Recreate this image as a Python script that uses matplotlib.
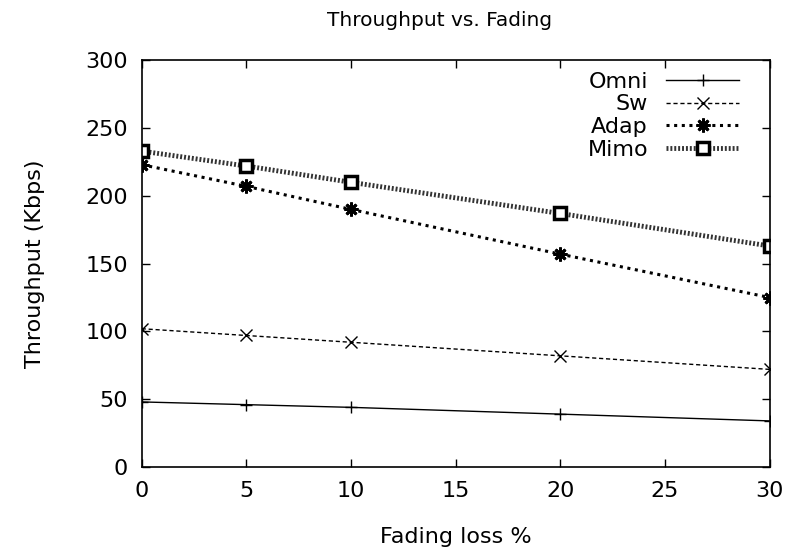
import matplotlib.pyplot as plt

fading = [0, 5, 10, 20, 30]
omni = [48, 46, 44, 39, 34]
sw = [102, 97, 92, 82, 72]
adap = [223, 207, 190, 157, 125]
mimo = [233, 222, 210, 187, 163]

plt.rcParams['font.family'] = ['DejaVu Sans']

fig = plt.figure(figsize=(7.96, 5.53), dpi=100)
ax = fig.add_axes([0.178, 0.1555, 0.789, 0.7355])

ax.plot(fading, omni, color='black', lw=1, marker='+', ms=9, mew=1, label='Omni')
ax.plot(fading, sw, color='black', lw=1, ls=(0, (3, 2)), marker='x', ms=8, mew=1, label='Sw')
ax.plot(fading, adap, color='black', lw=2.2, ls=(0, (1, 1.5)), marker=(8, 2, 0), ms=10, mew=2, label='Adap')
ax.plot(fading, mimo, color='#333333', lw=3.5, ls=(0, (0.4, 0.4)), marker='s', ms=8.5, mew=2.5,
        mfc='white', mec='black', label='Mimo')

ax.set_xlim(0, 30)
ax.set_ylim(0, 300)
ax.set_xticks([0, 5, 10, 15, 20, 25, 30])
ax.set_yticks([0, 50, 100, 150, 200, 250, 300])
ax.tick_params(direction='in', length=6, width=1, top=True, right=True, labelsize=16, pad=10)
for s in ax.spines.values():
    s.set_linewidth(1.2)

ax.set_xlabel('Fading loss %', fontsize=16, labelpad=19)
ax.set_ylabel('Throughput (Kbps)', fontsize=16, labelpad=29)
fig.text(440 / 796, 1 - 20 / 553, 'Throughput vs. Fading', fontsize=14.5, ha='center', va='center')

ax.legend(loc='upper right', bbox_to_anchor=(1 - 15 / 628, 1.01), markerfirst=False, frameon=False,
          fontsize=16, handlelength=3.3, labelspacing=0.12, borderaxespad=0.3, handletextpad=0.8)

fig.savefig('out.png', dpi=100)
